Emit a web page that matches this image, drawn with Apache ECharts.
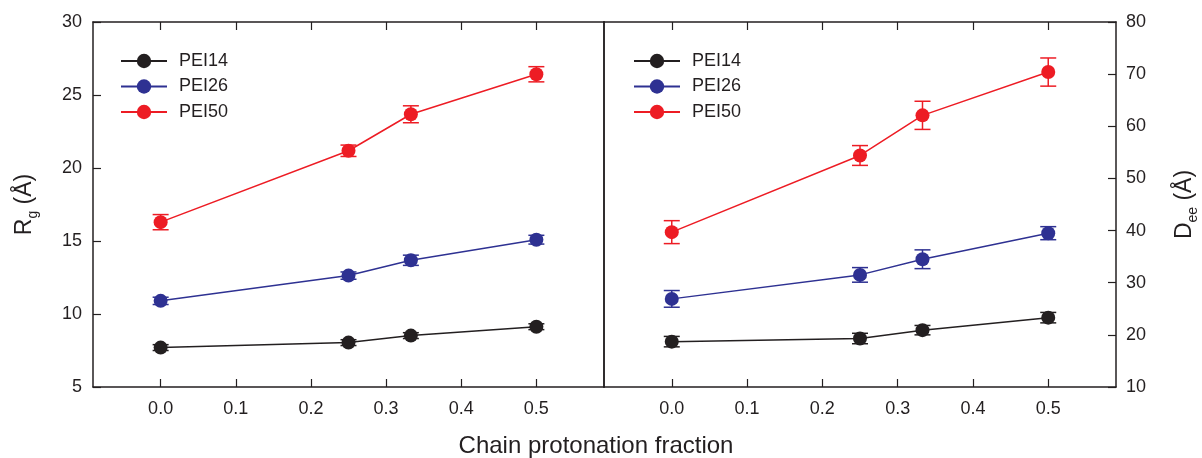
<!DOCTYPE html>
<html>
<head>
<meta charset="utf-8">
<script src="https://cdn.jsdelivr.net/npm/echarts@6/dist/echarts.min.js"></script>
<style>
  html, body { margin: 0; padding: 0; background: #fff; }
  #chart { width: 1202px; height: 458px; }
</style>
</head>
<body>
<div id="chart"></div>
<script>
const fraction = [0, 0.25, 0.333, 0.5];
const xTicks = [0, 0.1, 0.2, 0.3, 0.4, 0.5];
const names = ['PEI14', 'PEI26', 'PEI50'];

// Rg (left panel)
const rgPEI14 = [7.70, 8.04, 8.52, 9.13];
const rgPEI14Err = [0.2, 0.2, 0.2, 0.2];
const rgPEI26 = [10.90, 12.63, 13.68, 15.09];
const rgPEI26Err = [0.25, 0.25, 0.35, 0.3];
const rgPEI50 = [16.29, 21.18, 23.68, 26.42];
const rgPEI50Err = [0.52, 0.39, 0.58, 0.52];

// Dee (right panel)
const deePEI14 = [18.7, 19.3, 20.9, 23.3];
const deePEI14Err = [1.0, 1.0, 0.9, 1.0];
const deePEI26 = [26.9, 31.5, 34.5, 39.5];
const deePEI26Err = [1.6, 1.4, 1.8, 1.25];
const deePEI50 = [39.7, 54.4, 62.1, 70.4];
const deePEI50Err = [2.2, 1.9, 2.7, 2.7];

const colors = ['#231f20', '#2e3192', '#ed1c24'];
const ink = '#231f20';
const font = 'Liberation Sans, Arial, sans-serif';

function pairs(values) {
  return values.map((v, i) => [fraction[i], v]);
}

function errRows(values, errs) {
  return values.map((v, i) => [fraction[i], v - errs[i], v + errs[i]]);
}

function errorBars(params, api) {
  const x = api.value(0);
  const top = api.coord([x, api.value(2)]);
  const bottom = api.coord([x, api.value(1)]);
  const half = 8;
  const style = { stroke: api.visual('color'), lineWidth: 1.5 };
  return {
    type: 'group',
    children: [
      { type: 'line', shape: { x1: top[0], y1: top[1], x2: bottom[0], y2: bottom[1] }, style },
      { type: 'line', shape: { x1: top[0] - half, y1: top[1], x2: top[0] + half, y2: top[1] }, style },
      { type: 'line', shape: { x1: bottom[0] - half, y1: bottom[1], x2: bottom[0] + half, y2: bottom[1] }, style },
    ],
  };
}

function panelSeries(gridIndex, sets) {
  const out = [];
  sets.forEach(([values, errs], k) => {
    out.push({
      name: names[k] + ' err',
      type: 'custom',
      xAxisIndex: gridIndex * 2,
      yAxisIndex: gridIndex * 2,
      renderItem: errorBars,
      itemStyle: { color: colors[k] },
      data: errRows(values, errs),
      z: 2,
      silent: true,
    });
    out.push({
      name: names[k],
      type: 'line',
      xAxisIndex: gridIndex * 2,
      yAxisIndex: gridIndex * 2,
      data: pairs(values),
      symbol: 'circle',
      symbolSize: 14,
      color: colors[k],
      lineStyle: { width: 1.5, color: colors[k] },
      itemStyle: { color: colors[k] },
      z: 3,
    });
  });
  return out;
}

const lineStyle = { color: ink, width: 1.5 };
const tickStyle = { color: ink, width: 1.2 };

function xAxes(gridIndex) {
  const base = {
    gridIndex,
    type: 'value',
    min: -0.09,
    max: 0.59,
    splitLine: { show: false },
    axisLine: { show: true, onZero: false, lineStyle },
    axisTick: { show: true, inside: true, length: 8, lineStyle: tickStyle, customValues: xTicks },
  };
  return [
    Object.assign({}, base, {
      position: 'bottom',
      axisLabel: {
        customValues: xTicks,
        formatter: (v) => v.toFixed(1),
        margin: 13,
        fontSize: 18,
        color: ink,
        fontFamily: font,
      },
    }),
    Object.assign({}, base, { position: 'top', axisLabel: { show: false } }),
  ];
}

const subName = (main, sub) => `{m|${main}}{s|${sub}}{m| (Å)}`;
const nameRich = {
  m: { fontSize: 23, fontFamily: font, color: ink, lineHeight: 28, verticalAlign: 'bottom' },
  s: { fontSize: 14, fontFamily: font, color: ink, lineHeight: 12, verticalAlign: 'bottom', padding: [0, 0, -4, 0] },
};

const option = {
  animation: false,
  backgroundColor: '#fff',
  grid: [
    { left: 93, right: 598, top: 22, bottom: 71 },
    { left: 604, right: 86, top: 22, bottom: 71 },
  ],
  legend: [0, 1].map((g) => ({
    data: names,
    orient: 'vertical',
    left: g === 0 ? 120 : 633,
    top: 52,
    padding: 0,
    itemWidth: 46,
    itemHeight: 18,
    itemGap: 7.5,
    selectedMode: false,
    textStyle: { fontSize: 18, color: ink, fontFamily: font, padding: [0, 0, 0, 7] },
  })),
  xAxis: [...xAxes(0), ...xAxes(1)],
  yAxis: [
    {
      gridIndex: 0,
      type: 'value',
      position: 'left',
      min: 5,
      max: 30,
      interval: 5,
      splitLine: { show: false },
      axisLine: { show: true, onZero: false, lineStyle },
      axisTick: { show: true, inside: true, length: 8, lineStyle: tickStyle },
      axisLabel: { fontSize: 18, color: ink, fontFamily: font, margin: 11 },
      name: subName('R', 'g'),
      nameLocation: 'middle',
      nameRotate: 90,
      nameGap: 57,
      nameTextStyle: { rich: nameRich },
    },
    {
      gridIndex: 0,
      type: 'value',
      position: 'right',
      min: 5,
      max: 30,
      splitLine: { show: false },
      axisLine: { show: true, onZero: false, lineStyle },
      axisTick: { show: false },
      axisLabel: { show: false },
    },
    {
      gridIndex: 1,
      type: 'value',
      position: 'right',
      min: 10,
      max: 80,
      interval: 10,
      splitLine: { show: false },
      axisLine: { show: true, onZero: false, lineStyle },
      axisTick: { show: true, inside: true, length: 8, lineStyle: tickStyle },
      axisLabel: { fontSize: 18, color: ink, fontFamily: font, margin: 10 },
      name: subName('D', 'ee'),
      nameLocation: 'middle',
      nameRotate: 90,
      nameGap: 52,
      nameTextStyle: { rich: nameRich },
    },
    {
      gridIndex: 1,
      type: 'value',
      position: 'left',
      min: 10,
      max: 80,
      splitLine: { show: false },
      axisLine: { show: true, onZero: false, lineStyle },
      axisTick: { show: false },
      axisLabel: { show: false },
    },
  ],
  graphic: [
    {
      type: 'text',
      x: 596,
      y: 446,
      style: {
        text: 'Chain protonation fraction',
        fontSize: 24,
        fontFamily: font,
        fill: ink,
        textAlign: 'center',
        textVerticalAlign: 'middle',
      },
    },
  ],
  series: [
    ...panelSeries(0, [[rgPEI14, rgPEI14Err], [rgPEI26, rgPEI26Err], [rgPEI50, rgPEI50Err]]),
    ...panelSeries(1, [[deePEI14, deePEI14Err], [deePEI26, deePEI26Err], [deePEI50, deePEI50Err]]),
  ],
};

const chart = echarts.init(document.getElementById('chart'), null, { renderer: 'canvas' });
chart.setOption(option);
</script>
</body>
</html>
